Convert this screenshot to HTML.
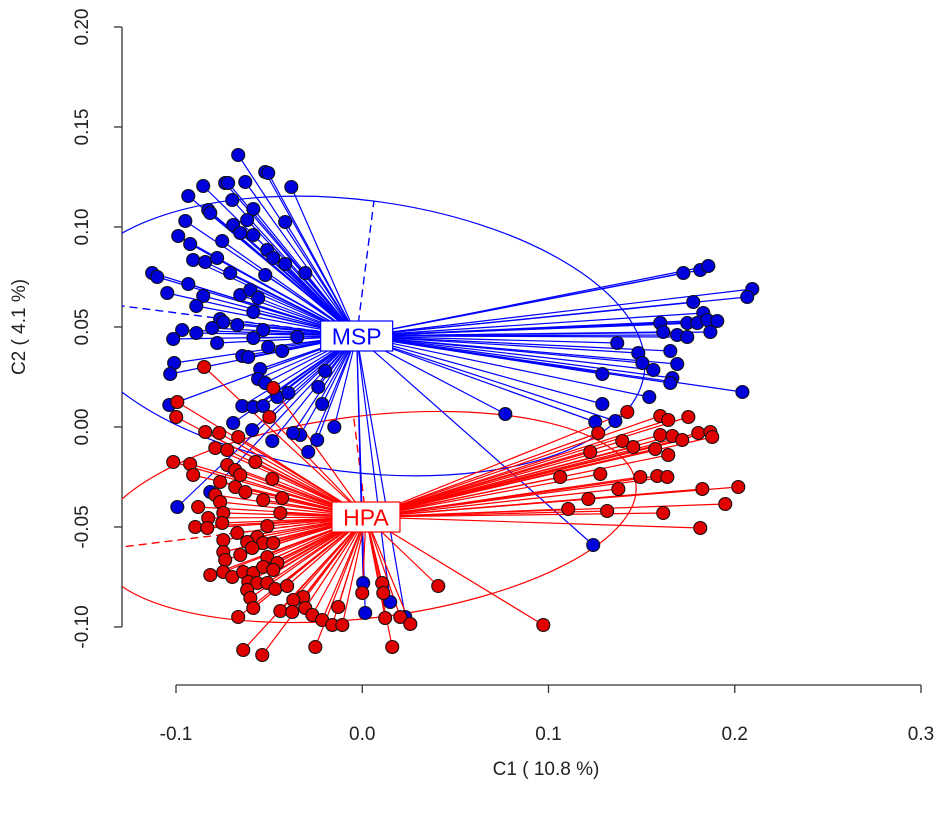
<!DOCTYPE html>
<html><head><meta charset="utf-8"><style>
html,body{margin:0;padding:0;background:#fff;}
svg{display:block;font-family:"Liberation Sans",sans-serif;}
</style></head><body>
<svg id="chart" width="945" height="813" viewBox="0 0 945 813" xmlns="http://www.w3.org/2000/svg">
<defs><clipPath id="plotclip"><rect x="122" y="0" width="823" height="680"/></clipPath></defs>
<g id="axes"></g>
<g id="plot" clip-path="url(#plotclip)"></g>
<g id="labels"></g>
</svg>
<script>
const xTicks=[-0.1,0.0,0.1,0.2,0.3];
const xTickLabels=["-0.1","0.0","0.1","0.2","0.3"];
const yTicks=[-0.10,-0.05,0.00,0.05,0.10,0.15,0.20];
const yTickLabels=["-0.10","-0.05","0.00","0.05","0.10","0.15","0.20"];
const groups=["MSP","HPA"];
const centroidX=[-0.003,0.002];
const centroidY=[0.0455,-0.045];
const mspX=[-0.0666,-0.0521,-0.0505,-0.0854,-0.0736,-0.072,-0.0628,-0.0381,-0.0934,-0.0698,-0.0827,-0.0816,-0.0585,-0.095,-0.0618,-0.0414,-0.0693,-0.0655,-0.0988,-0.0585,-0.0924,-0.0752,-0.051,-0.0478,-0.0908,-0.0843,-0.0779,-0.0414,-0.0709,-0.0306,-0.1128,-0.1101,-0.0521,-0.0934,-0.0655,-0.0601,-0.0559,-0.0854,-0.1047,-0.0891,-0.0585,-0.0763,-0.0746,-0.0806,-0.0671,-0.0532,-0.0349,-0.0967,-0.0891,-0.1015,-0.0779,-0.0585,-0.0505,-0.043,-0.0644,-0.0612,-0.101,-0.1031,-0.0548,-0.0559,-0.0521,-0.0199,-0.0236,-0.0456,-0.0397,-0.0215,-0.1036,-0.0644,-0.0585,-0.0532,-0.0693,-0.0591,-0.015,-0.0483,-0.0333,-0.0371,-0.0242,-0.029,-0.0816,-0.0993,0.0005,0.0016,0.015,0.0231,0.1724,0.1815,0.1858,0.2094,0.2067,0.1777,0.1831,0.16,0.1616,0.1745,0.1799,0.1853,0.1906,0.1691,0.1745,0.1869,0.1369,0.1482,0.1504,0.1654,0.1691,0.1563,0.1289,0.1665,0.1654,0.2041,0.1541,0.1289,0.0768,0.1251,0.1359,0.124];
const mspY=[0.136,0.1275,0.127,0.1205,0.122,0.122,0.1225,0.12,0.1155,0.1135,0.1085,0.107,0.109,0.103,0.1035,0.1025,0.101,0.097,0.0955,0.096,0.0915,0.093,0.0885,0.0845,0.0835,0.0825,0.0845,0.0815,0.077,0.077,0.077,0.075,0.076,0.0715,0.066,0.0685,0.0645,0.0655,0.067,0.0605,0.0575,0.054,0.0525,0.0495,0.051,0.0485,0.045,0.0485,0.047,0.044,0.042,0.0445,0.04,0.038,0.0355,0.035,0.032,0.0265,0.029,0.024,0.022,0.028,0.02,0.015,0.017,0.0115,0.011,0.0105,0.01,0.0105,0.002,-0.0015,0,-0.007,-0.004,-0.003,-0.0065,-0.0125,-0.0325,-0.04,-0.078,-0.093,-0.0875,-0.095,0.077,0.0785,0.0805,0.069,0.065,0.0625,0.057,0.052,0.0475,0.052,0.052,0.0535,0.053,0.046,0.045,0.0475,0.042,0.037,0.032,0.038,0.0315,0.0285,0.0265,0.0245,0.022,0.0175,0.015,0.0115,0.0065,0.0025,0.003,-0.059];
const hpaX=[-0.0849,-0.0478,-0.0993,-0.0499,-0.0999,-0.0843,-0.0768,-0.0666,-0.0789,-0.0725,-0.0574,-0.1015,-0.0924,-0.0908,-0.0725,-0.0682,-0.0655,-0.0483,-0.0763,-0.0682,-0.0628,-0.0789,-0.0763,-0.0532,-0.043,-0.0881,-0.0746,-0.044,-0.0827,-0.0897,-0.0832,-0.0752,-0.051,-0.0671,-0.0746,-0.0564,-0.0532,-0.0618,-0.0478,-0.0746,-0.0655,-0.0591,-0.0736,-0.051,-0.0456,-0.0816,-0.0746,-0.0698,-0.0639,-0.0585,-0.0532,-0.0478,-0.0612,-0.0564,-0.0618,-0.051,-0.0467,-0.0403,-0.0601,-0.0585,-0.0317,-0.037,-0.044,-0.0376,-0.0306,-0.0268,-0.0215,-0.0161,-0.0107,-0.0129,-0.0666,0,0.0107,0.0113,0.0123,0.0204,0.0258,0.0408,-0.0639,-0.0537,-0.0252,0.0161,0.0972,0.1423,0.16,0.1643,0.1751,0.1267,0.16,0.1665,0.1718,0.1804,0.1869,0.1879,0.1396,0.1455,0.1573,0.1643,0.1224,0.1063,0.1278,0.1493,0.1584,0.1638,0.1375,0.1826,0.2019,0.1214,0.1106,0.1315,0.1616,0.1949,0.1815];
const hpaY=[0.03,0.0195,0.0125,0.005,0.005,-0.0025,-0.003,-0.005,-0.0105,-0.0115,-0.0175,-0.0175,-0.0185,-0.024,-0.019,-0.0215,-0.024,-0.026,-0.0275,-0.03,-0.0325,-0.034,-0.0375,-0.0365,-0.0355,-0.04,-0.043,-0.043,-0.0455,-0.05,-0.0505,-0.048,-0.0495,-0.053,-0.0565,-0.055,-0.058,-0.0575,-0.058,-0.0625,-0.064,-0.0605,-0.0665,-0.065,-0.068,-0.074,-0.0725,-0.075,-0.0725,-0.073,-0.07,-0.0715,-0.0775,-0.078,-0.0815,-0.078,-0.081,-0.0795,-0.0855,-0.0905,-0.085,-0.0865,-0.092,-0.0925,-0.0905,-0.094,-0.0965,-0.099,-0.099,-0.09,-0.095,-0.083,-0.078,-0.083,-0.0955,-0.095,-0.0985,-0.0795,-0.1115,-0.114,-0.11,-0.11,-0.099,0.0075,0.0055,0.0035,0.005,-0.003,-0.004,-0.0045,-0.0065,-0.003,-0.0025,-0.005,-0.007,-0.01,-0.011,-0.014,-0.0125,-0.025,-0.0235,-0.025,-0.0245,-0.025,-0.031,-0.031,-0.03,-0.036,-0.041,-0.042,-0.043,-0.0385,-0.0505];
const ellMajor=[0.1557,0.1460];
const ellMinor=[0.068,0.0505];
const ellAngle=[7.3,-7];

const NS="http://www.w3.org/2000/svg";
const X0=176,X1=921,XD0=-0.1,XD1=0.3;
const Y0=627,Y1=27,YD0=-0.10,YD1=0.20;
function sx(v){return X0+(v-XD0)/(XD1-XD0)*(X1-X0);}
function sy(v){return Y0-(v-YD0)/(YD1-YD0)*(Y0-Y1);}
const kx=(X1-X0)/(XD1-XD0), ky=(Y0-Y1)/(YD1-YD0);
function mk(tag,attrs,parent){const e=document.createElementNS(NS,tag);for(const k in attrs)e.setAttribute(k,attrs[k]);parent.appendChild(e);return e;}
const axes=document.getElementById('axes'),plot=document.getElementById('plot'),labels=document.getElementById('labels');
const axisCol="#333";
let l=mk('line',{x1:122,y1:sy(yTicks[0]),x2:122,y2:sy(yTicks[yTicks.length-1]),stroke:axisCol,'stroke-width':1.3},axes);


yTicks.forEach((t,i)=>{
  const y=sy(t);
  const tk=mk('line',{x1:114,y1:y,x2:122,y2:y,stroke:axisCol,'stroke-width':1.3},axes);
  
  
  const tx=mk('text',{x:0,y:0,transform:`translate(88,${y}) rotate(-90)`,'text-anchor':'middle','font-size':19,fill:'#222'},axes);
  tx.textContent=yTickLabels[i];
  
  
});
l=mk('line',{x1:sx(xTicks[0]),y1:685,x2:sx(xTicks[xTicks.length-1]),y2:685,stroke:axisCol,'stroke-width':1.3},axes);


xTicks.forEach((t,i)=>{
  const x=sx(t);
  const tk=mk('line',{x1:x,y1:685,x2:x,y2:693,stroke:axisCol,'stroke-width':1.3},axes);
  
  
  const tx=mk('text',{x:x,y:740,'text-anchor':'middle','font-size':19,fill:'#222'},axes);
  tx.textContent=xTickLabels[i];
  
  
});
let t=mk('text',{x:546,y:775,'text-anchor':'middle','font-size':19,fill:'#222'},axes);
t.textContent="C1 ( 10.8 %)";


t=mk('text',{x:0,y:0,transform:'translate(25,327) rotate(-90)','text-anchor':'middle','font-size':19,fill:'#222'},axes);
t.textContent="C2 ( 4.1 %)";



const colors=["#0000ff","#ff0000"],fills=["#0000dd","#e00000"];
const xs=[mspX,hpaX],ys=[mspY,hpaY];
groups.forEach((g,gi)=>{
  const cx=sx(centroidX[gi]),cy=sy(centroidY[gi]);
  const rx=ellMajor[gi]*kx, ry=ellMinor[gi]*ky;
  const gg=mk('g',{transform:`translate(${cx},${cy}) rotate(${ellAngle[gi]})`},plot);
  
  
  const e=mk('ellipse',{cx:0,cy:0,rx:rx,ry:ry,fill:'none',stroke:colors[gi],'stroke-width':1.2},gg);
  
  
  const d1=mk('line',{x1:0,y1:0,x2:-rx,y2:0,stroke:colors[gi],'stroke-width':1.4,'stroke-dasharray':'8,5'},gg);
  
  
  const d2=mk('line',{x1:0,y1:0,x2:0,y2:-ry,stroke:colors[gi],'stroke-width':1.4,'stroke-dasharray':'8,5'},gg);
  
  
});
groups.forEach((g,gi)=>{
  const cx=sx(centroidX[gi]),cy=sy(centroidY[gi]);
  xs[gi].forEach((v,i)=>{
    const s=mk('line',{x1:cx,y1:cy,x2:sx(v),y2:sy(ys[gi][i]),stroke:colors[gi],'stroke-width':1.2},plot);
    
    
  });
});
groups.forEach((g,gi)=>{
  xs[gi].forEach((v,i)=>{
    const c=mk('circle',{cx:sx(v),cy:sy(ys[gi][i]),r:6.5,fill:fills[gi],stroke:'#111','stroke-width':1.1},plot);
    
    
  });
});
groups.forEach((g,gi)=>{
  const cx=sx(centroidX[gi]),cy=sy(centroidY[gi]);
  const w=(gi==0?72:68),h=30;
  const r=mk('rect',{x:cx-w/2,y:cy-h/2,width:w,height:h,fill:'#fff',stroke:colors[gi],'stroke-width':1.2},labels);
  
  
  const tx=mk('text',{x:cx,y:cy+8.5,'text-anchor':'middle','font-size':23,fill:colors[gi]},labels);
  tx.textContent=g;
  
  
});
</script>
</body></html>
